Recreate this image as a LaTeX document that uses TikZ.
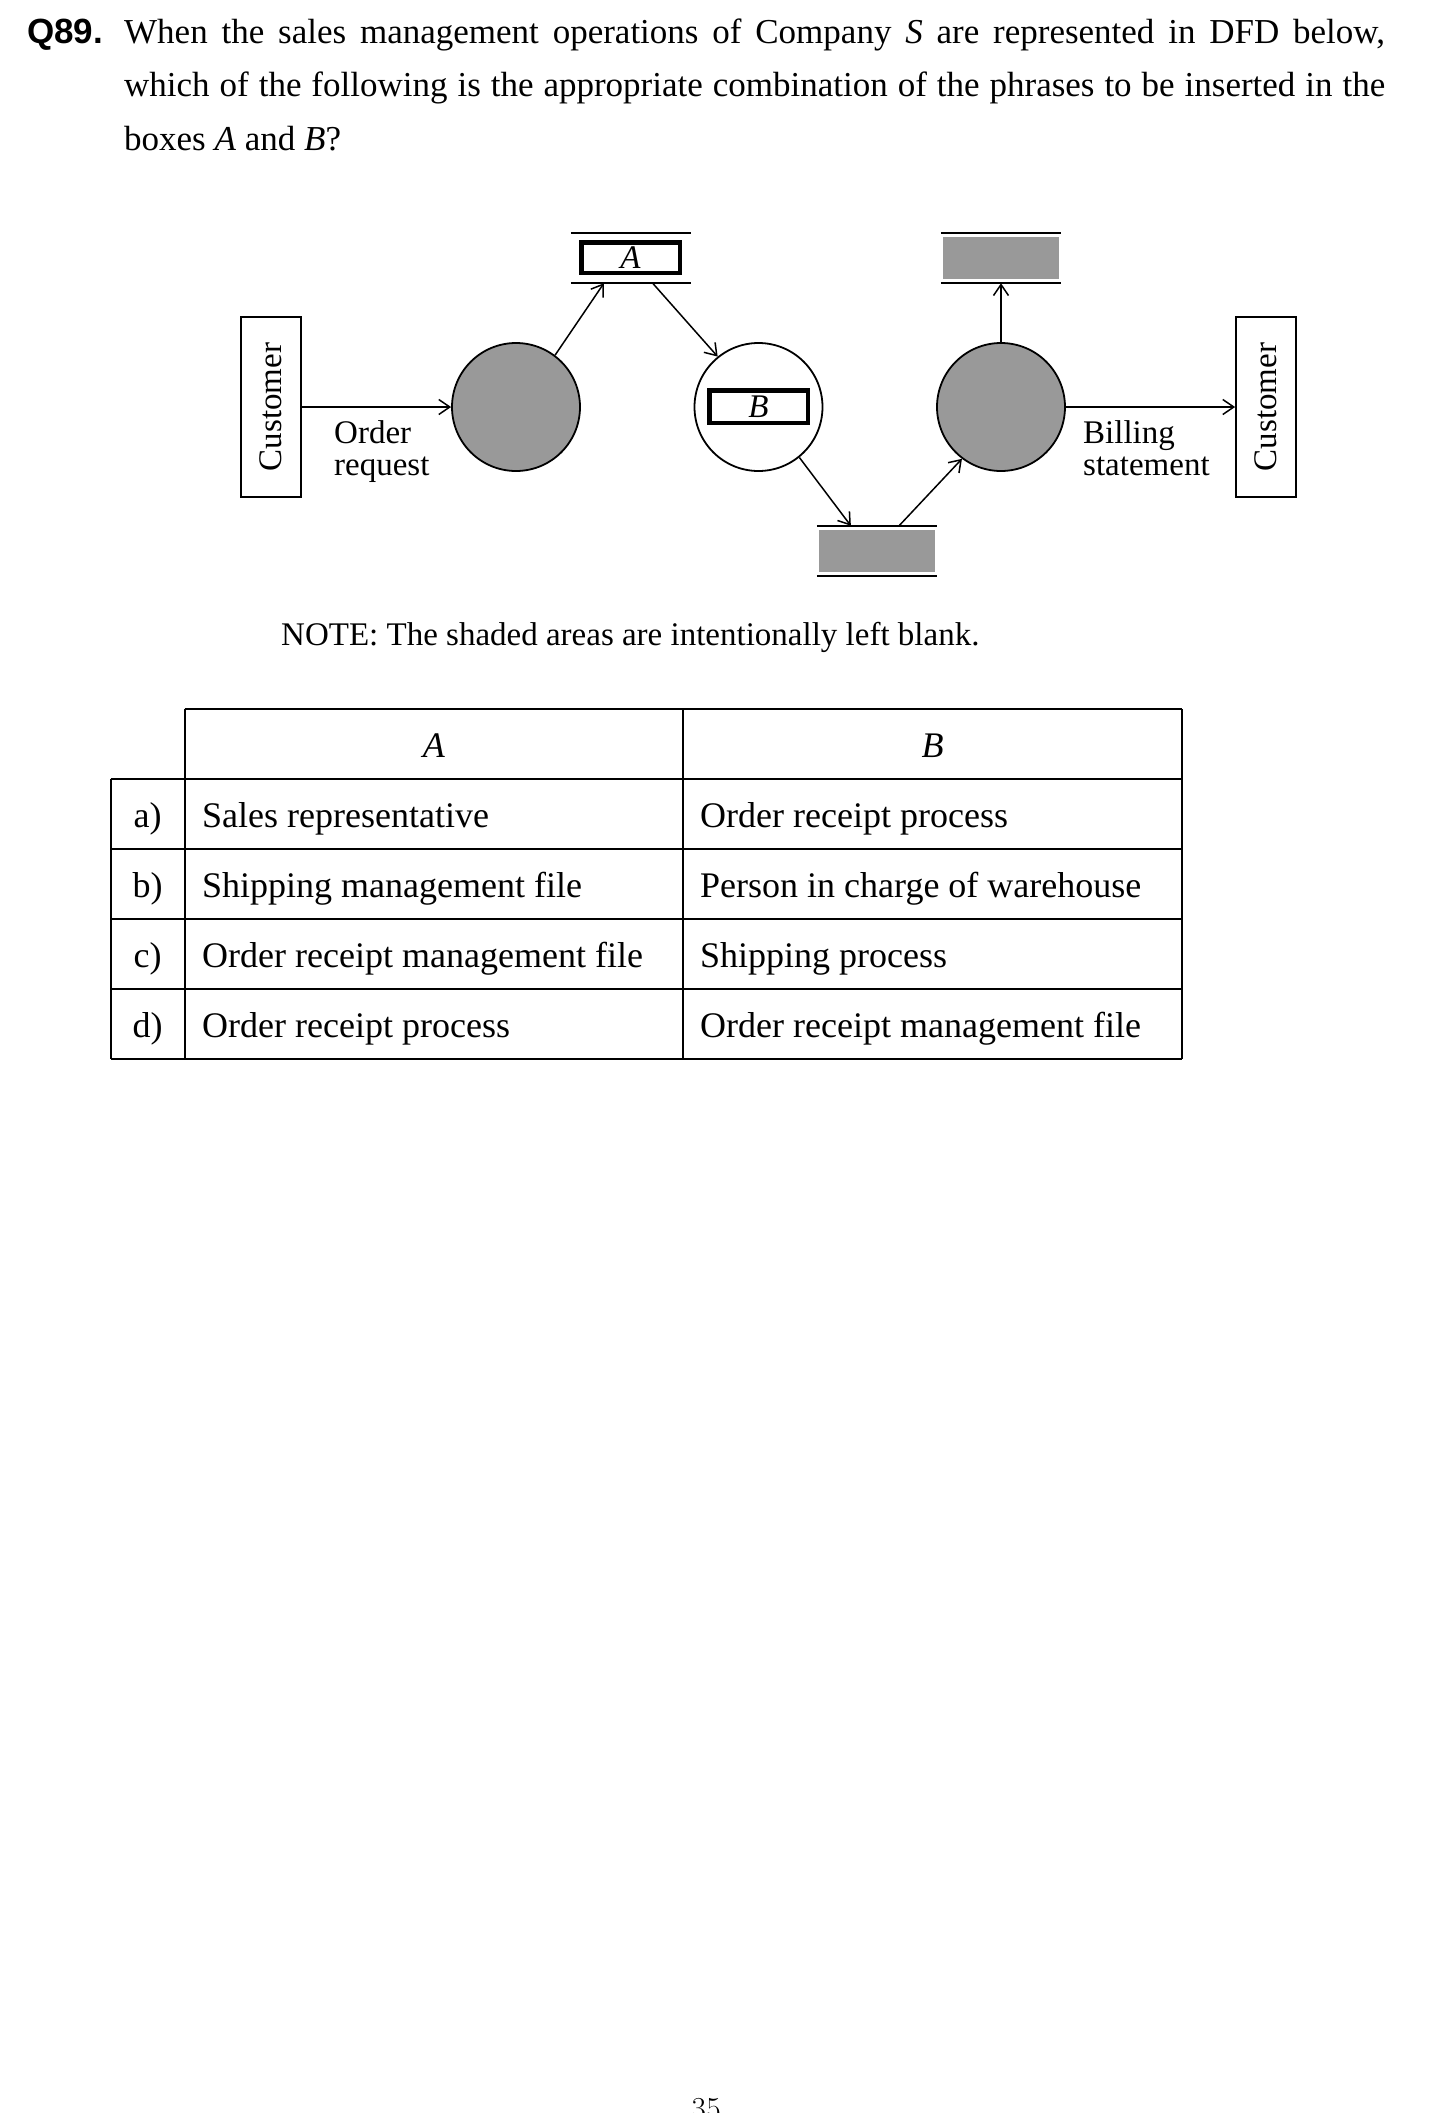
\documentclass[tikz,border=0pt]{standalone}
\usepackage{fontspec}
\newfontfamily\tnr{Liberation Serif}
\newfontfamily\arl{Liberation Sans}
\usetikzlibrary{arrows.meta,calc}
\definecolor{blankgray}{RGB}{153,153,153}
\begin{document}
\begin{tikzpicture}[x=1pt,y=-1pt,
  txt/.style={inner sep=0pt},
  body/.style={txt,font=\fontsize{35}{35}\selectfont\tnr},
  cell/.style={txt,font=\fontsize{36}{36}\selectfont\tnr},
  lbl/.style={txt,font=\fontsize{33}{32}\selectfont\tnr,align=left},
  proc/.style={circle,draw,line width=1.8pt,minimum size=128pt,inner sep=0pt},
  ext/.style={draw,line width=1.8pt,rotate=90,minimum width=180pt,minimum height=60pt,inner sep=0pt,font=\fontsize{33}{33}\selectfont\tnr},
  store/.style={minimum width=120pt,minimum height=50pt,inner sep=0pt},
  blankstore/.style={store,path picture={\fill[blankgray]
      ($(path picture bounding box.north west)+(2,4)$) rectangle
      ($(path picture bounding box.south east)+(-2,-4)$);}},
  sline/.style={line width=2pt},
  tag/.style={draw,line width=4.5pt,minimum width=98.5pt,inner sep=0pt,font=\fontsize{33}{33}\selectfont\tnr\itshape},
  flow/.style={line width=1.5pt,-{Straight Barb[length=11pt,width=15pt]}},
  tline/.style={line width=2pt}]
\useasboundingbox (0,0) rectangle (1450,2113);

% question text
\node[txt,anchor=base west,font=\fontsize{35}{35}\selectfont\arl\bfseries] (q) at (27,43) {Q89.};
\node[txt,anchor=base west,text width=1261pt,align=justify,
      font=\fontsize{35}{53.5}\selectfont\tnr] (qt) at (124,43)
  {When the sales management operations of Company \textit{S} are represented in DFD below,\linebreak
   which of the following is the appropriate combination of the phrases to be inserted in the\linebreak
   boxes \textit{A} and \textit{B}?};

% DFD
\node[ext] (cust1) at (271,407) {Customer};
\node[ext] (cust2) at (1266,407) {Customer};
\node[proc,fill=blankgray] (c1) at (516,407) {};
\node[proc] (c2) at (758.5,407) {};
\node[proc,fill=blankgray] (c3) at (1001,407) {};
\node[tag,minimum height=32.5pt] (tB) at (758.5,406.5) {B};

\node[store] (sA) at (631,258) {};
\node[tag,minimum height=30.5pt] (tA) at (630.5,257.5) {A};
\node[blankstore] (sC) at (1001,258) {};
\node[blankstore] (sD) at (877,551) {};
\foreach \s in {sA,sC,sD}{
  \draw[sline] (\s.north west) -- (\s.north east);
  \draw[sline] (\s.south west) -- (\s.south east);
}

\draw[flow] (cust1.south) -- (c1.west);
\draw[flow] (c1.53) -- ($(sA.south west)!0.275!(sA.south east)$);
\draw[flow] ($(sA.south west)!0.68!(sA.south east)$) -- (c2.129);
\draw[flow] (c2.-51) -- ($(sD.north west)!0.283!(sD.north east)$);
\draw[flow] ($(sD.north west)!0.683!(sD.north east)$) -- (c3.233);
\draw[flow] (c3.north) -- (sC.south);
\draw[flow] (c3.east) -- (cust2.north);

\node[lbl,anchor=base west] (ordl) at (334,475) {Order\\request};
\node[lbl,anchor=base west] (bill) at (1083,475) {Billing\\statement};

\node[txt,anchor=base west,font=\fontsize{33}{33}\selectfont\tnr] (note) at (281,645) {NOTE: The shaded areas are intentionally left blank.};

% table
\draw[tline] (184.6,709) -- (1182,709);
\foreach \y in {779,849,919,989,1059}{\draw[tline] (110.5,\y) -- (1182,\y);}
\draw[tline] (110.5,779) -- (110.5,1059);
\draw[tline] (184.6,709) -- (184.6,1059);
\draw[tline] (683.2,709) -- (683.2,1059);
\draw[tline] (1182,709) -- (1182,1059);
\node[cell,anchor=base] (hA) at (434,757) {\textit{A}};
\node[cell,anchor=base] (hB) at (932.5,757) {\textit{B}};
\node[cell,anchor=base] (ra) at (147.5,827) {a)};
\node[cell,anchor=base] (rb) at (147.5,897) {b)};
\node[cell,anchor=base] (rc) at (147.5,967) {c)};
\node[cell,anchor=base] (rd) at (147.5,1037) {d)};
\node[cell,anchor=base west] (a1) at (202,827) {Sales representative};
\node[cell,anchor=base west] (b1) at (202,897) {Shipping management file};
\node[cell,anchor=base west] (c1t) at (202,967) {Order receipt management file};
\node[cell,anchor=base west] (d1) at (202,1037) {Order receipt process};
\node[cell,anchor=base west] (a2) at (700,827) {Order receipt process};
\node[cell,anchor=base west] (b2) at (700,897) {Person in charge of warehouse};
\node[cell,anchor=base west] (c2t) at (700,967) {Shipping process};
\node[cell,anchor=base west] (d2) at (700,1037) {Order receipt management file};

\node[txt,anchor=base,font=\fontsize{32}{32}\selectfont] (pg) at (706,2119) {35};
\end{tikzpicture}
\end{document}
